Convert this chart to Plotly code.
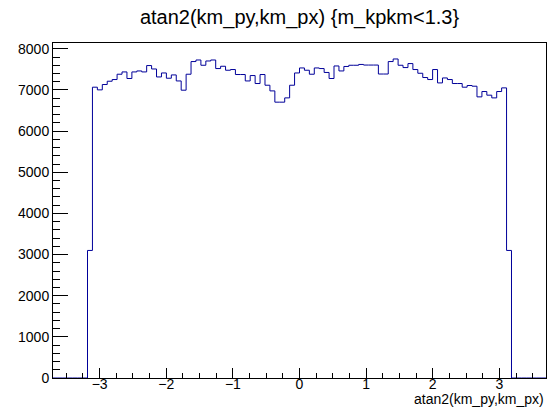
import plotly.graph_objects as go

# Histogram definition (ROOT-style): 100 bins over [-3.7, 3.7]
x_min, x_max, n_bins = -3.7, 3.7, 100

# Bin contents for bins 7..92 (all other bins are empty)
first_bin = 7
counts = [
    3100,                                   # bin 7 (partial, contains -pi)
    7067, 7002, 7132, 7212, 7253, 7382, 7438, 7278, 7438, 7462,   # 8-17
    7438, 7593, 7510, 7316, 7413, 7285, 7365, 7219, 6994, 7382,   # 18-27
    7690, 7728, 7600, 7704, 7728, 7520, 7576, 7479, 7496, 7375,   # 28-37
    7375, 7219, 7350, 7156, 7375, 7115, 6977, 6703, 6703, 6807,   # 38-47
    7115, 7413, 7535, 7479, 7382, 7535, 7520, 7425, 7278, 7583,   # 48-57
    7462, 7571, 7600, 7600, 7620, 7605, 7605, 7605, 7387, 7387,   # 58-67
    7690, 7753, 7600, 7544, 7641, 7496, 7406, 7302, 7253, 7496,   # 68-77
    7171, 7292, 7253, 7156, 7156, 7067, 7108, 7091, 6832, 6962,   # 78-87
    6873, 6807, 6962, 7050,                                       # 88-91
    3100,                                   # bin 92 (partial, contains +pi)
]

y_max = 8141
x_ticks = [-3, -2, -1, 0, 1, 2, 3]
y_ticks = [0, 1000, 2000, 3000, 4000, 5000, 6000, 7000, 8000]
title_text = "atan2(km_py,km_px) {m_kpkm<1.3}"
x_title = "atan2(km_py,km_px)"

# Build full bin list and step outline
values = [0] * n_bins
for i, c in enumerate(counts):
    values[first_bin + i] = c
width = (x_max - x_min) / n_bins
edges = [x_min + k * width for k in range(n_bins + 1)]
xs = edges
ys = values + [values[-1]]

font_family = "Liberation Sans, Arial, Helvetica, sans-serif"

fig = go.Figure()
fig.add_trace(go.Scatter(
    x=xs, y=ys, mode="lines", line=dict(shape="hv", color="#000099", width=1),
    hoverinfo="skip", showlegend=False,
))

fig.update_layout(
    width=547, height=412,
    margin=dict(l=53, r=1, t=43, b=34),
    paper_bgcolor="white", plot_bgcolor="white",
    font=dict(family=font_family, size=14, color="black"),
    title=dict(text=title_text, x=0.5, xref="paper", xanchor="center",
               y=1 - 17 / 412, yref="container", yanchor="middle",
               font=dict(size=20, family=font_family, color="black")),
    showlegend=False,
)

fig.update_xaxes(
    range=[x_min, x_max], showgrid=False, zeroline=False,
    showline=True, linecolor="black", linewidth=1, mirror=True,
    tickmode="array", tickvals=x_ticks, ticktext=[("\u2212" + str(-t)) if t < 0 else str(t) for t in x_ticks],
    ticks="inside", ticklen=10, tickcolor="black", tickwidth=1,
    ticklabelstandoff=-7,
    minor=dict(ticks="inside", ticklen=5, dtick=0.25, tick0=0, tickcolor="black", showgrid=False),
    tickfont=dict(size=14, family=font_family, color="black"),
)
fig.update_yaxes(
    range=[0, y_max], showgrid=False, zeroline=False,
    showline=True, linecolor="black", linewidth=1, mirror=True,
    tickmode="array", tickvals=y_ticks, ticktext=[str(t) for t in y_ticks],
    ticks="inside", ticklen=15, tickcolor="black", tickwidth=1,
    minor=dict(ticks="inside", ticklen=7, dtick=200, tick0=0, tickcolor="black", showgrid=False),
    tickfont=dict(size=14, family=font_family, color="black"),
)

fig.add_annotation(
    text=x_title, x=1, xref="paper", xanchor="right",
    y=-21 / 335, yref="paper", yanchor="middle", showarrow=False,
    font=dict(size=14, family=font_family, color="black"),
)

fig.write_html("out.html")
